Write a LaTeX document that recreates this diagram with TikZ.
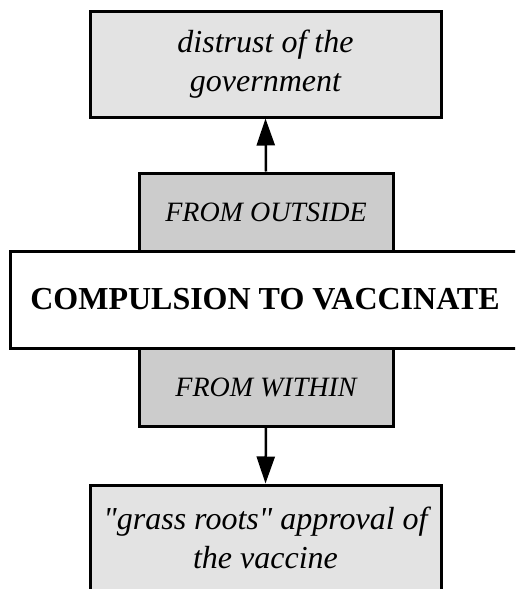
\documentclass[tikz,border=0pt]{standalone}
\usepackage{fontspec}
\setmainfont{Liberation Serif}
\usetikzlibrary{arrows.meta}
\definecolor{boxlight}{HTML}{E3E3E3}
\definecolor{boxmid}{HTML}{CCCCCC}
\tikzset{
  outerbox/.style={draw=black, line width=3pt, fill=boxlight, rectangle, minimum width=351pt, minimum height=106pt, align=center, inner sep=0pt, font=\fontsize{32}{38.4}\selectfont\itshape},
  sidebox/.style={draw=black, line width=3pt, fill=boxmid, rectangle, minimum width=254pt, minimum height=78pt, align=center, inner sep=0pt, font=\fontsize{28}{34}\selectfont\itshape},
  centerbox/.style={draw=black, line width=3pt, fill=white, rectangle, minimum width=510pt, minimum height=97pt, align=center, inner sep=0pt, font=\fontsize{32}{38}\selectfont\bfseries},
  arr/.style={line width=2.5pt, -{Triangle[length=27pt, width=18pt]}}
}
\begin{document}
\begin{tikzpicture}[x=1pt, y=-1pt]
\clip (0,0) rectangle (515,589);
\fill[white] (0,0) rectangle (515,589);
\node[outerbox] (top) at (265.5,64) {distrust of the\\government};
\node[sidebox] (out) at (266,212) {FROM OUTSIDE};
\node[sidebox] (within) at (266,387) {FROM WITHIN};
\node[centerbox] (mid) at (265,299.5) {COMPULSION TO VACCINATE};
\node[outerbox] (bottom) at (265.5,538) {\textquotedbl grass roots\textquotedbl{} approval of\\the vaccine};
\draw[arr] (out.north) -- (top.south);
\draw[arr] (within.south) -- (bottom.north);
\end{tikzpicture}
\end{document}
